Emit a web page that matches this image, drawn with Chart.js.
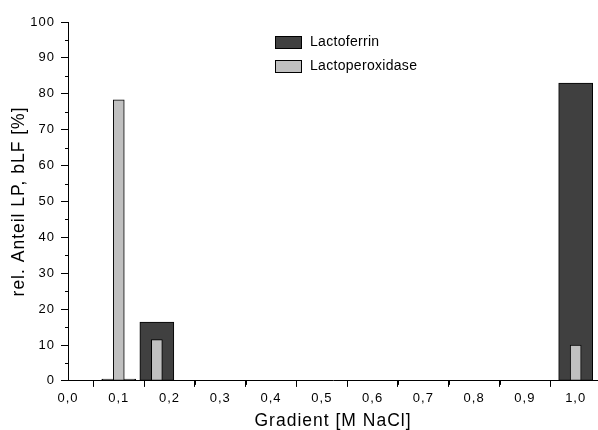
<!DOCTYPE html>
<html>
<head>
<meta charset="utf-8">
<script src="https://cdn.jsdelivr.net/npm/chart.js@4"></script>
<style>
	html, body { margin: 0; padding: 0; background: #fff; }
	#wrap { width: 598px; height: 430px; }
</style>
</head>
<body>
<div id="wrap"><canvas id="chart"></canvas></div>
<script>
const FONT = "'Liberation Sans', Arial, sans-serif";

// NaCl step of the gradient and the share of each protein eluted there
const GRADIENT = [0.1, 0.175, 1.0];
const LACTOFERRIN = [0.5, 16.4, 83.0];
const LACTOPEROXIDASE = [78.3, 11.5, 10.0];

const LABELS = ["Lactoferrin", "Lactoperoxidase"];

const toPoints = (values) => GRADIENT.map((x, i) => ({ x: x, y: values[i] }));
const commaDecimal = (v) => Number(v).toFixed(1).replace(".", ",");

// the plot text is slightly tracked out
const spacing = {
	id: "spacing",
	beforeLayout(chart) {
		chart.ctx.letterSpacing = "1px";
	},
	beforeDraw(chart) {
		chart.ctx.letterSpacing = "1px";
	},
};

// short in-between ticks at the half steps
const minorTicks = {
	id: "minorTicks",
	afterDraw(chart) {
		const { ctx } = chart;
		const x = chart.scales.x;
		const y = chart.scales.y;
		ctx.save();
		ctx.strokeStyle = "#000";
		ctx.lineWidth = 1;
		ctx.beginPath();
		for (let v = 0.05; v < x.max; v += 0.1) {
			const px = Math.round(x.getPixelForValue(v)) + 0.5;
			ctx.moveTo(px, y.bottom);
			ctx.lineTo(px, y.bottom + 4);
		}
		for (let v = 5; v < y.max; v += 10) {
			const py = Math.round(y.getPixelForValue(v)) + 0.5;
			ctx.moveTo(x.left - 3, py);
			ctx.lineTo(x.left, py);
		}
		ctx.stroke();
		ctx.restore();
	},
};

// legend boxes sit inside the plot, near the top
const boxLegend = {
	id: "boxLegend",
	afterDraw(chart) {
		const { ctx, chartArea } = chart;
		const left = Math.round(chartArea.left + 207);
		const top = chartArea.top + 14;
		ctx.save();
		ctx.font = "14px " + FONT;
		ctx.letterSpacing = "0.3px";
		ctx.textBaseline = "alphabetic";
		ctx.lineWidth = 1;
		chart.data.datasets.forEach((ds, i) => {
			const yy = Math.round(top + i * 23.5);
			ctx.fillStyle = ds.backgroundColor;
			ctx.fillRect(left, yy, 27, 13);
			ctx.strokeStyle = "#000";
			ctx.strokeRect(left + 0.5, yy + 0.5, 26, 12);
			ctx.fillStyle = "#000";
			ctx.fillText(ds.label, left + 35, yy + 10);
		});
		ctx.restore();
	},
};

const ctx = document.getElementById("chart").getContext("2d");

new Chart(ctx, {
	type: "bar",
	data: {
		datasets: [
			{
				label: LABELS[0],
				data: toPoints(LACTOFERRIN),
				backgroundColor: "#404040",
				borderColor: "#000",
				borderWidth: 1,
				borderSkipped: false,
				maxBarThickness: 34,
				order: 1,
			},
			{
				label: LABELS[1],
				data: toPoints(LACTOPEROXIDASE),
				backgroundColor: "#c0c0c0",
				borderColor: "#000",
				borderWidth: 1,
				borderSkipped: false,
				maxBarThickness: 11,
				order: 0,
			},
		],
	},
	options: {
		responsive: true,
		maintainAspectRatio: false,
		animation: false,
		grouped: false,
		barPercentage: 1,
		categoryPercentage: 1,
		layout: { padding: { left: 9, top: 22, right: 0, bottom: 0 } },
		scales: {
			x: {
				type: "linear",
				min: 0,
				max: 1.044,
				offset: false,
				grid: { drawOnChartArea: false, color: "#000", tickLength: 6 },
				border: { color: "#000", width: 1 },
				ticks: {
					stepSize: 0.1,
					includeBounds: false,
					autoSkip: false,
					maxRotation: 0,
					padding: 4,
					color: "#000",
					font: { family: FONT, size: 13 },
					callback: commaDecimal,
				},
				title: {
					display: true,
					text: "Gradient [M NaCl]",
					color: "#000",
					font: { family: FONT, size: 17.5, lineHeight: 1 },
					padding: { top: 2, bottom: 0 },
				},
			},
			y: {
				min: 0,
				max: 100,
				afterFit(scale) {
					scale.width = 59;
				},
				grid: { drawOnChartArea: false, color: "#000", tickLength: 7 },
				border: { color: "#000", width: 1 },
				ticks: {
					stepSize: 10,
					padding: 6,
					color: "#000",
					font: { family: FONT, size: 13 },
				},
				title: {
					display: true,
					text: "rel. Anteil LP, bLF [%]",
					color: "#000",
					font: { family: FONT, size: 17.5 },
					padding: { top: 0, bottom: 2 },
				},
			},
		},
		plugins: {
			legend: { display: false },
			tooltip: { enabled: false },
		},
	},
	plugins: [spacing, minorTicks, boxLegend],
});
</script>
</body>
</html>
